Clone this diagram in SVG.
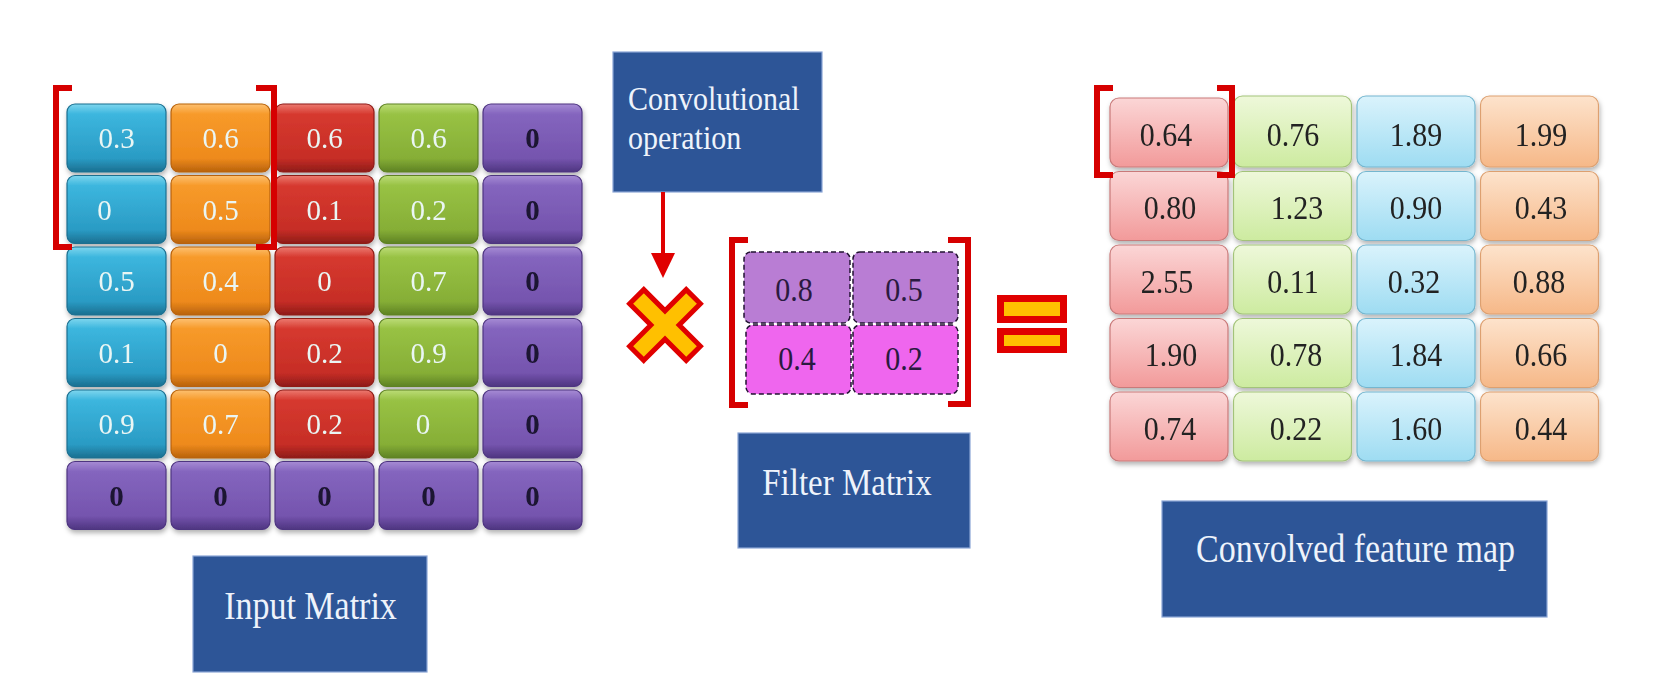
<svg xmlns="http://www.w3.org/2000/svg" width="1667" height="699" viewBox="0 0 1667 699">
<style>
.serif{font-family:"Liberation Serif","Times New Roman",serif}
.lbl{font-family:"Liberation Serif","Times New Roman",serif;fill:#EEF3FB}
.box{fill:#2D5597;stroke:#8AA5D6;stroke-width:1.2}
.in{font-family:"Liberation Serif","Times New Roman",serif;font-size:29px;text-anchor:middle;fill:#EAF6F4}
.inz{font-family:"Liberation Serif","Times New Roman",serif;font-size:29px;text-anchor:middle;fill:#1A1230;font-weight:bold}
.ft{font-family:"Liberation Serif","Times New Roman",serif;font-size:30px;text-anchor:middle;fill:#2A1A40}
.fm{font-family:"Liberation Serif","Times New Roman",serif;font-size:30px;text-anchor:middle;fill:#222222}
.brk{fill:none;stroke:#D60000;stroke-width:6}
.cy{fill:url(#gCyan);stroke:#1B6F90;stroke-width:1.2}
.or{fill:url(#gOrange);stroke:#B8620C;stroke-width:1.2}
.rd{fill:url(#gRed);stroke:#8E1C18;stroke-width:1.2}
.gn{fill:url(#gGreen);stroke:#5E8224;stroke-width:1.2}
.pu{fill:url(#gPurple);stroke:#4E3580;stroke-width:1.2}
.fp{fill:url(#fPink);stroke:#C97A7A;stroke-width:1.2}
.fg{fill:url(#fGreen);stroke:#A3C37A;stroke-width:1.2}
.fb{fill:url(#fBlue);stroke:#74B6CF;stroke-width:1.2}
.fo{fill:url(#fOrange);stroke:#DDA070;stroke-width:1.2}
.fl1{fill:#B97DD4;stroke:#221232;stroke-width:1.5;stroke-dasharray:5 3}
.fl2{fill:#EF66EE;stroke:#221232;stroke-width:1.5;stroke-dasharray:5 3}
</style>
<defs>
<linearGradient id="gCyan" x1="0" y1="0" x2="0" y2="1"><stop offset="0" stop-color="#7ED6EE"/><stop offset="0.15" stop-color="#3CB6DE"/><stop offset="0.8" stop-color="#2A9BC4"/><stop offset="1" stop-color="#1B6F90"/></linearGradient>
<linearGradient id="gOrange" x1="0" y1="0" x2="0" y2="1"><stop offset="0" stop-color="#FDC070"/><stop offset="0.15" stop-color="#F79A2A"/><stop offset="0.8" stop-color="#EE8A1C"/><stop offset="1" stop-color="#B8620C"/></linearGradient>
<linearGradient id="gRed" x1="0" y1="0" x2="0" y2="1"><stop offset="0" stop-color="#EC7A70"/><stop offset="0.15" stop-color="#D6392F"/><stop offset="0.8" stop-color="#C62D26"/><stop offset="1" stop-color="#8E1C18"/></linearGradient>
<linearGradient id="gGreen" x1="0" y1="0" x2="0" y2="1"><stop offset="0" stop-color="#BCDC78"/><stop offset="0.15" stop-color="#98C244"/><stop offset="0.8" stop-color="#86AE36"/><stop offset="1" stop-color="#5E8224"/></linearGradient>
<linearGradient id="gPurple" x1="0" y1="0" x2="0" y2="1"><stop offset="0" stop-color="#A68BD4"/><stop offset="0.15" stop-color="#8465BE"/><stop offset="0.8" stop-color="#7554AE"/><stop offset="1" stop-color="#4E3580"/></linearGradient>
<linearGradient id="fPink" x1="0" y1="0" x2="0" y2="1"><stop offset="0" stop-color="#FBD6D6"/><stop offset="1" stop-color="#F29A9A"/></linearGradient>
<linearGradient id="fGreen" x1="0" y1="0" x2="0" y2="1"><stop offset="0" stop-color="#EEF8DA"/><stop offset="1" stop-color="#CDEBA0"/></linearGradient>
<linearGradient id="fBlue" x1="0" y1="0" x2="0" y2="1"><stop offset="0" stop-color="#DAF3FC"/><stop offset="1" stop-color="#9EDCF2"/></linearGradient>
<linearGradient id="fOrange" x1="0" y1="0" x2="0" y2="1"><stop offset="0" stop-color="#FDE3CC"/><stop offset="1" stop-color="#F6B888"/></linearGradient>
<filter id="sh" x="-10%" y="-10%" width="120%" height="130%"><feDropShadow dx="1" dy="3" stdDeviation="2.5" flood-color="#000" flood-opacity="0.3"/></filter>
<marker id="arr" viewBox="0 0 10 10" refX="10" refY="5" markerWidth="6" markerHeight="6" orient="auto" markerUnits="strokeWidth"><path d="M0,0 L10,5 L0,10 Z" fill="#E00000"/></marker>
</defs>
<rect width="1667" height="699" fill="#FFFFFF"/>

<!-- Input matrix -->
<g id="input-matrix" filter="url(#sh)">
<g id="in-r1"><rect class="cy" x="67" y="104" width="99" height="68" rx="8"/><text class="in" x="116.5" y="148">0.3</text>
<rect class="or" x="171" y="104" width="99" height="68" rx="8"/><text class="in" x="220.5" y="148">0.6</text>
<rect class="rd" x="275" y="104" width="99" height="68" rx="8"/><text class="in" x="324.5" y="148">0.6</text>
<rect class="gn" x="379" y="104" width="99" height="68" rx="8"/><text class="in" x="428.5" y="148">0.6</text>
<rect class="pu" x="483" y="104" width="99" height="68" rx="8"/><text class="inz" x="532.5" y="148">0</text></g>
<g id="in-r2"><rect class="cy" x="67" y="175.5" width="99" height="68" rx="8"/><text class="in" x="104.5" y="219.5">0</text>
<rect class="or" x="171" y="175.5" width="99" height="68" rx="8"/><text class="in" x="220.5" y="219.5">0.5</text>
<rect class="rd" x="275" y="175.5" width="99" height="68" rx="8"/><text class="in" x="324.5" y="219.5">0.1</text>
<rect class="gn" x="379" y="175.5" width="99" height="68" rx="8"/><text class="in" x="428.5" y="219.5">0.2</text>
<rect class="pu" x="483" y="175.5" width="99" height="68" rx="8"/><text class="inz" x="532.5" y="219.5">0</text></g>
<g id="in-r3"><rect class="cy" x="67" y="247" width="99" height="68" rx="8"/><text class="in" x="116.5" y="291">0.5</text>
<rect class="or" x="171" y="247" width="99" height="68" rx="8"/><text class="in" x="220.5" y="291">0.4</text>
<rect class="rd" x="275" y="247" width="99" height="68" rx="8"/><text class="in" x="324.5" y="291">0</text>
<rect class="gn" x="379" y="247" width="99" height="68" rx="8"/><text class="in" x="428.5" y="291">0.7</text>
<rect class="pu" x="483" y="247" width="99" height="68" rx="8"/><text class="inz" x="532.5" y="291">0</text></g>
<g id="in-r4"><rect class="cy" x="67" y="318.5" width="99" height="68" rx="8"/><text class="in" x="116.5" y="362.5">0.1</text>
<rect class="or" x="171" y="318.5" width="99" height="68" rx="8"/><text class="in" x="220.5" y="362.5">0</text>
<rect class="rd" x="275" y="318.5" width="99" height="68" rx="8"/><text class="in" x="324.5" y="362.5">0.2</text>
<rect class="gn" x="379" y="318.5" width="99" height="68" rx="8"/><text class="in" x="428.5" y="362.5">0.9</text>
<rect class="pu" x="483" y="318.5" width="99" height="68" rx="8"/><text class="inz" x="532.5" y="362.5">0</text></g>
<g id="in-r5"><rect class="cy" x="67" y="390" width="99" height="68" rx="8"/><text class="in" x="116.5" y="434">0.9</text>
<rect class="or" x="171" y="390" width="99" height="68" rx="8"/><text class="in" x="220.5" y="434">0.7</text>
<rect class="rd" x="275" y="390" width="99" height="68" rx="8"/><text class="in" x="324.5" y="434">0.2</text>
<rect class="gn" x="379" y="390" width="99" height="68" rx="8"/><text class="in" x="423" y="434">0</text>
<rect class="pu" x="483" y="390" width="99" height="68" rx="8"/><text class="inz" x="532.5" y="434">0</text></g>
<g id="in-r6"><rect class="pu" x="67" y="461.5" width="99" height="68" rx="8"/><text class="inz" x="116.5" y="505.5">0</text>
<rect class="pu" x="171" y="461.5" width="99" height="68" rx="8"/><text class="inz" x="220.5" y="505.5">0</text>
<rect class="pu" x="275" y="461.5" width="99" height="68" rx="8"/><text class="inz" x="324.5" y="505.5">0</text>
<rect class="pu" x="379" y="461.5" width="99" height="68" rx="8"/><text class="inz" x="428.5" y="505.5">0</text>
<rect class="pu" x="483" y="461.5" width="99" height="68" rx="8"/><text class="inz" x="532.5" y="505.5">0</text></g>
</g>
<g id="input-window">
<path class="brk" d="M72,88 H56 V247 H72"/>
<path class="brk" d="M256,88 H274 V247 H256"/>
</g>
<g id="input-label"><rect class="box" x="193" y="556" width="234" height="116"/><text class="lbl" font-size="34" text-anchor="middle" transform="translate(310.5,619) scale(1,1.15)">Input Matrix</text></g>

<!-- Convolutional operation -->
<g id="conv-op"><rect class="box" x="613" y="52" width="209" height="140"/>
<text class="lbl" font-size="30" transform="translate(628,110) scale(1,1.15)">Convolutional</text>
<text class="lbl" font-size="30" transform="translate(628,149) scale(1,1.15)">operation</text></g>

<!-- connectors -->
<g id="connectors">
<line x1="663" y1="192" x2="663" y2="255" stroke="#E00000" stroke-width="4"/>
<polygon points="651,253 675,253 663,278" fill="#E00000"/>
</g>

<!-- multiply sign -->
<g id="multiply">
<polygon transform="translate(665,325) rotate(45)" points="10,40 10,10 40,10 40,-10 10,-10 10,-40 -10,-40 -10,-10 -40,-10 -40,10 -10,10 -10,40" fill="#FFC000" stroke="#E00000" stroke-width="5" stroke-linejoin="miter"/>
</g>

<!-- Filter matrix -->
<g id="filter-matrix">
<g id="f-r1"><rect class="fl1" x="744" y="252" width="106" height="71" rx="7"/><text class="ft" transform="translate(794,301) scale(1,1.12)">0.8</text>
<rect class="fl1" x="853" y="252" width="105" height="71" rx="7"/><text class="ft" transform="translate(904,301) scale(1,1.12)">0.5</text></g>
<g id="f-r2"><rect class="fl2" x="746" y="325" width="105" height="69" rx="7"/><text class="ft" transform="translate(797,370) scale(1,1.12)">0.4</text>
<rect class="fl2" x="853" y="325" width="105" height="69" rx="7"/><text class="ft" transform="translate(904,370) scale(1,1.12)">0.2</text></g>
<path class="brk" d="M748,240 H732 V405 H748"/>
<path class="brk" d="M948,240 H968 V404 H948"/>
</g>
<g id="filter-label"><rect class="box" x="738" y="433" width="232" height="115"/><text class="lbl" font-size="33" text-anchor="middle" transform="translate(847,495) scale(1,1.15)">Filter Matrix</text></g>

<!-- equals sign -->
<g id="equals">
<rect x="1000.5" y="298.5" width="63" height="21" fill="#FFC000" stroke="#E00000" stroke-width="7"/>
<rect x="1000.5" y="331.5" width="63" height="18" fill="#FFC000" stroke="#E00000" stroke-width="7"/>
</g>

<!-- Convolved feature map -->
<g id="feature-map" filter="url(#sh)">
<g id="fm-r1"><rect class="fp" x="1110" y="98" width="118" height="69" rx="9"/><text class="fm" transform="translate(1166,145.5) scale(1,1.15)">0.64</text>
<rect class="fg" x="1233.5" y="96" width="118" height="71" rx="9"/><text class="fm" transform="translate(1293,145.5) scale(1,1.15)">0.76</text>
<rect class="fb" x="1357" y="96" width="118" height="71" rx="9"/><text class="fm" transform="translate(1416,145.5) scale(1,1.15)">1.89</text>
<rect class="fo" x="1480.5" y="96" width="118" height="71" rx="9"/><text class="fm" transform="translate(1541,145.5) scale(1,1.15)">1.99</text></g>
<g id="fm-r2"><rect class="fp" x="1110" y="171.5" width="118" height="69" rx="9"/><text class="fm" transform="translate(1170,219) scale(1,1.15)">0.80</text>
<rect class="fg" x="1233.5" y="171.5" width="118" height="69" rx="9"/><text class="fm" transform="translate(1297,219) scale(1,1.15)">1.23</text>
<rect class="fb" x="1357" y="171.5" width="118" height="69" rx="9"/><text class="fm" transform="translate(1416,219) scale(1,1.15)">0.90</text>
<rect class="fo" x="1480.5" y="171.5" width="118" height="69" rx="9"/><text class="fm" transform="translate(1541,219) scale(1,1.15)">0.43</text></g>
<g id="fm-r3"><rect class="fp" x="1110" y="245" width="118" height="69" rx="9"/><text class="fm" transform="translate(1167,292.5) scale(1,1.15)">2.55</text>
<rect class="fg" x="1233.5" y="245" width="118" height="69" rx="9"/><text class="fm" transform="translate(1293,292.5) scale(1,1.15)">0.11</text>
<rect class="fb" x="1357" y="245" width="118" height="69" rx="9"/><text class="fm" transform="translate(1414,292.5) scale(1,1.15)">0.32</text>
<rect class="fo" x="1480.5" y="245" width="118" height="69" rx="9"/><text class="fm" transform="translate(1539,292.5) scale(1,1.15)">0.88</text></g>
<g id="fm-r4"><rect class="fp" x="1110" y="318.5" width="118" height="69" rx="9"/><text class="fm" transform="translate(1171,366) scale(1,1.15)">1.90</text>
<rect class="fg" x="1233.5" y="318.5" width="118" height="69" rx="9"/><text class="fm" transform="translate(1296,366) scale(1,1.15)">0.78</text>
<rect class="fb" x="1357" y="318.5" width="118" height="69" rx="9"/><text class="fm" transform="translate(1416,366) scale(1,1.15)">1.84</text>
<rect class="fo" x="1480.5" y="318.5" width="118" height="69" rx="9"/><text class="fm" transform="translate(1541,366) scale(1,1.15)">0.66</text></g>
<g id="fm-r5"><rect class="fp" x="1110" y="392" width="118" height="69" rx="9"/><text class="fm" transform="translate(1170,439.5) scale(1,1.15)">0.74</text>
<rect class="fg" x="1233.5" y="392" width="118" height="69" rx="9"/><text class="fm" transform="translate(1296,439.5) scale(1,1.15)">0.22</text>
<rect class="fb" x="1357" y="392" width="118" height="69" rx="9"/><text class="fm" transform="translate(1416,439.5) scale(1,1.15)">1.60</text>
<rect class="fo" x="1480.5" y="392" width="118" height="69" rx="9"/><text class="fm" transform="translate(1541,439.5) scale(1,1.15)">0.44</text></g>
</g>
<g id="feature-window">
<path class="brk" d="M1113,88 H1097 V175 H1113"/>
<path class="brk" d="M1217,88 H1232 V175 H1217"/>
</g>
<g id="feature-label"><rect class="box" x="1162" y="501" width="385" height="116"/><text class="lbl" font-size="34" text-anchor="middle" transform="translate(1355.5,562) scale(1,1.15)">Convolved feature map</text></g>
</svg>
